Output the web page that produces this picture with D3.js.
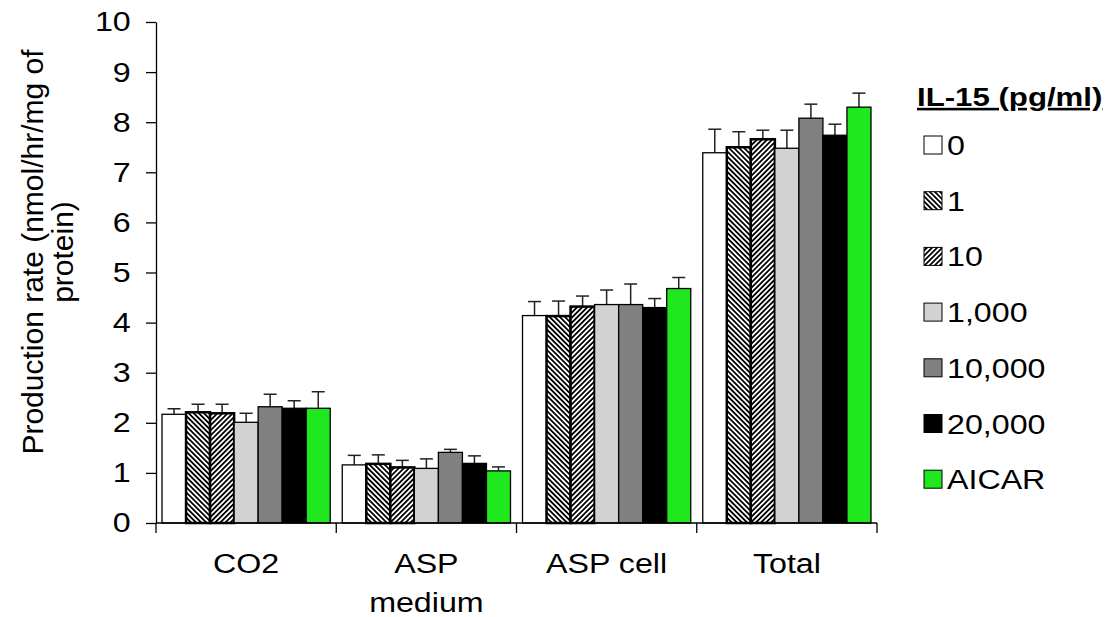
<!DOCTYPE html>
<html>
<head>
<script src="https://cdn.jsdelivr.net/npm/d3@7/dist/d3.min.js"></script>
<style type="text/css">
  body{
    background: white;
    margin: 0px;
    font-family: 'Liberation Sans', Arial, sans-serif;
  }
</style>
</head>
<body>
<div class="chart"></div>
<script>

// data
var categories = ["CO2", "ASP medium", "ASP cell", "Total"];
var categoryLines = [["CO2"], ["ASP", "medium"], ["ASP cell"], ["Total"]];
var series = ["0", "1", "10", "1,000", "10,000", "20,000", "AICAR"];

var meanCO2      = [2.17, 2.21, 2.19, 2.01, 2.32, 2.29, 2.29];
var meanMedium   = [1.16, 1.18, 1.11, 1.09, 1.41, 1.19, 1.04];
var meanCell     = [4.14, 4.13, 4.32, 4.36, 4.36, 4.30, 4.68];
var meanTotal    = [7.39, 7.50, 7.66, 7.48, 8.08, 7.74, 8.30];

var errCO2       = [0.11, 0.16, 0.18, 0.18, 0.25, 0.15, 0.33];
var errMedium    = [0.19, 0.18, 0.14, 0.19, 0.06, 0.15, 0.08];
var errCell      = [0.28, 0.30, 0.21, 0.29, 0.41, 0.18, 0.22];
var errTotal     = [0.47, 0.31, 0.18, 0.36, 0.28, 0.22, 0.28];

var yTicks = [0, 1, 2, 3, 4, 5, 6, 7, 8, 9, 10];
var yTitle = ["Production rate (nmol/hr/mg of", "protein)"];
var legendTitle = "IL-15 (pg/ml)";

var means = [meanCO2, meanMedium, meanCell, meanTotal];
var errs = [errCO2, errMedium, errCell, errTotal];

var fills = ["#ffffff", "url(#hatch1)", "url(#hatch10)", "#d2d2d2", "#808080", "#000000", "#1fe81f"];

var W = 1120, H = 617;
var margin = {top: 22, right: 243, bottom: 94, left: 156};
var sx = 1.15; // picture is stretched sideways, so text is too
var font = "'Liberation Sans', Arial, sans-serif";

var svg = d3.select(".chart").append("svg")
    .attr("width", W)
    .attr("height", H)
    .attr("font-family", font);

var defs = svg.append("defs");
function hatch(id, angle) {
  var p = defs.append("pattern")
      .attr("id", id)
      .attr("patternUnits", "userSpaceOnUse")
      .attr("width", 3.6)
      .attr("height", 3.6)
      .attr("patternTransform", "rotate(" + angle + ")");
  p.append("rect").attr("width", 3.6).attr("height", 3.6).attr("fill", "white");
  p.append("rect").attr("width", 1.8).attr("height", 3.6).attr("fill", "black");
}
hatch("hatch1", -45);
hatch("hatch10", 45);

var x = d3.scaleBand().domain(categories).range([margin.left, W - margin.right]);
var xs = d3.scaleBand().domain(series).range([0, x.bandwidth()]).paddingOuter(0.25);
var y = d3.scaleLinear().domain([0, 10]).range([H - margin.bottom, margin.top]);

// bars
var groups = svg.selectAll(".grp")
    .data(categories)
    .enter().append("g")
    .attr("class", "grp")
    .attr("transform", function(d) { return "translate(" + x(d) + ",0)"; });

groups.each(function(c, ci) {
  var g = d3.select(this);
  series.forEach(function(s, si) {
    var v = means[ci][si], e = errs[ci][si];
    var cx = xs(s) + xs.bandwidth() / 2;
    g.append("line")
      .attr("x1", cx).attr("x2", cx)
      .attr("y1", y(v)).attr("y2", y(v + e))
      .attr("stroke", "#222").attr("stroke-width", 1.5);
    g.append("line")
      .attr("x1", cx - 6.5).attr("x2", cx + 6.5)
      .attr("y1", y(v + e)).attr("y2", y(v + e))
      .attr("stroke", "#222").attr("stroke-width", 1.5);
    g.append("rect")
      .attr("x", xs(s))
      .attr("y", y(v))
      .attr("width", xs.bandwidth())
      .attr("height", y(0) - y(v))
      .attr("fill", fills[si])
      .attr("stroke", "black")
      .attr("stroke-width", (si == 1 || si == 2) ? 2.5 : 1.3);
  });
});

// y axis
var yAxis = svg.append("g")
    .attr("transform", "translate(" + margin.left + ",0)")
    .call(d3.axisLeft(y).tickValues(yTicks).tickSize(10).tickSizeOuter(0).tickPadding(12));
yAxis.select(".domain").attr("stroke-width", 1.3);
yAxis.selectAll(".tick line").attr("stroke-width", 1.3);
yAxis.selectAll("text")
    .attr("font-size", 28)
    .attr("font-family", font)
    .attr("fill", "black")
    .attr("transform", "scale(" + sx + ",1)");

// x axis
svg.append("line")
    .attr("x1", margin.left).attr("x2", W - margin.right)
    .attr("y1", y(0)).attr("y2", y(0))
    .attr("stroke", "black").attr("stroke-width", 1.3);
var bounds = categories.map(function(c) { return x(c); }).concat([x.range()[1]]);
svg.selectAll(".xtick")
    .data(bounds)
    .enter().append("line")
    .attr("class", "xtick")
    .attr("x1", function(d) { return d; }).attr("x2", function(d) { return d; })
    .attr("y1", y(0)).attr("y2", y(0) + 10)
    .attr("stroke", "black").attr("stroke-width", 1.3);

categories.forEach(function(c, ci) {
  var cx = x(c) + x.bandwidth() / 2;
  var t = svg.append("g").attr("transform", "translate(" + cx + "," + (y(0) + 50) + ") scale(" + sx + ",1)");
  categoryLines[ci].forEach(function(line, li) {
    t.append("text")
      .attr("y", li * 39)
      .attr("text-anchor", "middle")
      .attr("font-size", 28)
      .text(line);
  });
});

// y title
var yt = svg.append("g").attr("transform", "translate(43,252) rotate(-90)");
yTitle.forEach(function(line, li) {
  yt.append("text")
    .attr("y", li * 30)
    .attr("text-anchor", "middle")
    .attr("font-size", 30)
    .text(line);
});

// legend
var lg = svg.append("g").attr("transform", "translate(917,106)");
lg.append("text")
  .attr("font-size", 26)
  .attr("font-weight", "bold")
  .attr("text-decoration", "underline")
  .attr("transform", "scale(1.2,1)")
  .text(legendTitle);

var items = lg.selectAll(".item")
    .data(series)
    .enter().append("g")
    .attr("class", "item")
    .attr("transform", function(d, i) { return "translate(0," + (39 + i * 55.7) + ")"; });
items.append("rect")
    .attr("x", 7).attr("y", -9)
    .attr("width", 18).attr("height", 18)
    .attr("fill", function(d, i) { return fills[i]; })
    .attr("stroke", "black")
    .attr("stroke-width", 1);
items.append("text")
    .attr("transform", "translate(30,0) scale(" + sx + ",1)")
    .attr("dy", "0.36em")
    .attr("font-size", 28)
    .text(function(d) { return d; });

</script>
</body>
</html>
